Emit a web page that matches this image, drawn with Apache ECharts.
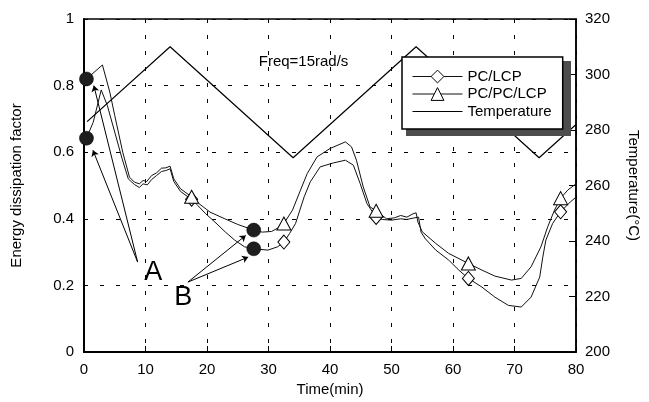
<!DOCTYPE html>
<html>
<head>
<meta charset="utf-8">
<script src="https://cdn.jsdelivr.net/npm/echarts@6/dist/echarts.min.js"></script>
<style>
  html, body { margin: 0; padding: 0; background: #fff; }
  #chart { width: 649px; height: 402px; }
</style>
</head>
<body>
<div id="chart"></div>
<script>
// Energy dissipation factor vs time at 15 rad/s, with the temperature program
const FONT = "'Liberation Sans', Arial, Helvetica, sans-serif";

// PC/LCP blend: [time (min), dissipation factor]
const pcLcp = [
  [0.4,0.642],[1.5,0.69],[2.8,0.787],[3.8,0.74],[5.0,0.66],[6.2,0.58],[7.2,0.52],
  [8.2,0.503],[9.0,0.494],[9.6,0.505],[10.3,0.502],[11.0,0.518],[11.8,0.53],
  [12.6,0.542],[13.3,0.545],[14.0,0.55],[14.6,0.512],[15.7,0.482],[16.6,0.47],
  [17.5,0.459],[18.5,0.44],[19.8,0.415],[21.3,0.39],[23.0,0.36],[24.5,0.336],
  [26.1,0.316],[27.6,0.31],[29.9,0.306],[31.5,0.316],[32.5,0.33],[33.4,0.355],
  [34.4,0.386],[35.8,0.466],[36.8,0.511],[38.4,0.556],[40.6,0.568],[42.5,0.576],
  [43.8,0.561],[44.9,0.506],[46.0,0.446],[47.5,0.404],[48.5,0.398],[50.0,0.396],
  [51.5,0.40],[52.5,0.398],[53.5,0.402],[54.4,0.405],[54.8,0.36],[55.5,0.34],
  [57.2,0.306],[59.3,0.276],[61.0,0.245],[62.5,0.221],[64.7,0.195],[66.8,0.165],
  [69.0,0.14],[71.1,0.135],[72.7,0.165],[74.1,0.225],[74.6,0.285],[75.1,0.336],
  [76.2,0.386],[77.5,0.421],[79.1,0.451],[80,0.465]
];

// PC/PC/LCP blend: [time (min), dissipation factor]
const pcPcLcp = [
  [0.4,0.82],[3.0,0.862],[4.2,0.78],[5.0,0.71],[6.3,0.60],[7.4,0.525],[8.2,0.51],
  [9.0,0.505],[9.6,0.515],[10.2,0.512],[11.0,0.53],[11.8,0.538],[12.6,0.552],
  [13.3,0.553],[14.0,0.558],[14.6,0.52],[15.7,0.49],[16.6,0.478],[17.5,0.466],
  [18.6,0.447],[20.5,0.42],[22.9,0.40],[25.0,0.383],[26.7,0.372],[27.6,0.366],
  [29.0,0.36],[30.5,0.362],[31.5,0.372],[32.5,0.386],[33.9,0.426],[35.2,0.486],
  [36.3,0.536],[37.9,0.586],[40.0,0.611],[42.5,0.631],[43.5,0.616],[44.3,0.576],
  [45.4,0.496],[46.5,0.436],[47.5,0.424],[49.2,0.40],[50.5,0.403],[51.5,0.41],
  [52.5,0.405],[53.5,0.415],[54.0,0.418],[54.3,0.39],[55.0,0.361],[57.2,0.326],
  [59.3,0.296],[62.5,0.266],[64.7,0.246],[66.8,0.228],[69.5,0.216],[71.1,0.221],
  [72.7,0.256],[74.3,0.316],[75.4,0.376],[76.5,0.426],[77.5,0.462],[78.7,0.487],
  [80,0.505]
];

// Temperature program: [time (min), °C]
const temperature = [[0.5,283],[14,310],[34,270],[54,310],[74,270],[80,282]];

// Times at which the curve markers are drawn
const markerTimes = [17.5, 32.5, 47.5, 62.5, 77.5];

// Annotated points A (start) and B (around 27.6 min)
const pointsA = [[0.4,0.82],[0.4,0.642]];
const pointsB = [[27.6,0.366],[27.6,0.31]];
const labelA = [11.25, 0.24];
const labelB = [16.15, 0.165];
const apexA = [8.72, 0.27];
const tipsA = [[1.6, 0.80], [1.45, 0.606]];
const apexB = [16.9, 0.21];
const tipsB = [[26.3, 0.35], [26.7, 0.285]];
const freqText = 'Freq=15rad/s';
const freqPos = [35.7, 0.87];

const xTicks = { min: 0, max: 80, interval: 10 };
const leftTicks = { min: 0, max: 1, interval: 0.2 };
const rightTicks = { min: 200, max: 320, interval: 20 };

function withMarkers(points) {
  return points.map(p => markerTimes.includes(p[0]) ? { value: p } : { value: p, symbol: 'none' });
}

const dashed = { show: true, lineStyle: { color: '#000', type: [4, 12], width: 1 } };
const labelFont = { color: '#000', fontSize: 15, fontFamily: FONT };
const clear = 'rgba(0,0,0,0)';

const arrowLines = [
  ...tipsA.map(t => [{ coord: apexA, symbol: 'none' }, { coord: t, symbol: 'arrow' }]),
  ...tipsB.map(t => [{ coord: apexB, symbol: 'none' }, { coord: t, symbol: 'arrow' }])
];

// Legend box geometry (pixels)
const LEG = { left: 402, top: 57, width: 165, height: 75 };

const chart = echarts.init(document.getElementById('chart'), null, { renderer: 'canvas' });
chart.setOption({
  backgroundColor: '#fff',
  animation: false,
  textStyle: { fontFamily: FONT },
  grid: { left: 84, right: 67, top: 19, bottom: 50, show: true, borderColor: '#000', borderWidth: 1.5, backgroundColor: 'transparent' },
  graphic: [{
    // drop shadow under the legend box
    type: 'rect', z: 3, silent: true,
    shape: { x: LEG.left + 4, y: LEG.top + 4, width: LEG.width, height: LEG.height },
    style: { fill: '#4d4d4d' }
  }],
  legend: {
    data: ['PC/LCP', 'PC/PC/LCP', 'Temperature'],
    orient: 'vertical', left: LEG.left, top: LEG.top,
    width: LEG.width - 21,
    padding: [12, 11, 10, 10],
    itemWidth: 50, itemHeight: 16, itemGap: 2.5,
    backgroundColor: '#fff', borderColor: '#000', borderWidth: 1.5,
    itemStyle: { borderWidth: 1 },
    lineStyle: { width: 1 },
    z: 5,
    textStyle: { fontSize: 15, color: '#000', fontFamily: FONT }
  },
  xAxis: {
    type: 'value', min: xTicks.min, max: xTicks.max, interval: xTicks.interval,
    name: 'Time(min)', nameLocation: 'middle', nameGap: 26,
    nameTextStyle: labelFont,
    axisLine: { lineStyle: { color: '#000', width: 2 } },
    axisTick: { inside: true, length: 6, lineStyle: { color: '#000' } },
    axisLabel: Object.assign({ margin: 10 }, labelFont),
    splitLine: dashed
  },
  yAxis: [
    {
      type: 'value', min: leftTicks.min, max: leftTicks.max, interval: leftTicks.interval,
      name: 'Energy dissipation factor', nameLocation: 'middle', nameGap: 60,
      nameTextStyle: labelFont,
      axisLine: { show: true, lineStyle: { color: '#000', width: 2 } },
      axisTick: { show: false },
      axisLabel: Object.assign({ margin: 10 }, labelFont),
      splitLine: dashed
    },
    {
      type: 'value', position: 'right', min: rightTicks.min, max: rightTicks.max, interval: rightTicks.interval,
      name: 'Temperature(°C)', nameLocation: 'middle', nameGap: 50, nameRotate: -90,
      nameTextStyle: labelFont,
      axisLine: { show: true, lineStyle: { color: '#000', width: 1.5 } },
      axisTick: { show: true, inside: true, length: 7, lineStyle: { color: '#000' } },
      axisLabel: Object.assign({ margin: 9 }, labelFont),
      splitLine: { show: false }
    }
  ],
  series: [
    {
      name: 'PC/LCP', type: 'line', data: withMarkers(pcLcp),
      symbol: 'diamond', symbolSize: [12, 14], showSymbol: true, showAllSymbol: true,
      lineStyle: { color: '#111', width: 1 },
      itemStyle: { color: '#fff', borderColor: '#000', borderWidth: 1 },
      z: 2
    },
    {
      name: 'PC/PC/LCP', type: 'line', data: withMarkers(pcPcLcp),
      symbol: 'triangle', symbolSize: [14, 13], showSymbol: true, showAllSymbol: true,
      lineStyle: { color: '#111', width: 1 },
      itemStyle: { color: '#fff', borderColor: '#000', borderWidth: 1 },
      z: 2
    },
    {
      name: 'Temperature', type: 'line', yAxisIndex: 1, data: temperature,
      symbol: 'none', lineStyle: { color: '#000', width: 1.2 },
      itemStyle: { color: clear, borderColor: clear, borderWidth: 0 }, z: 2
    },
    {
      name: 'annotated points', type: 'scatter', data: pointsA.concat(pointsB),
      symbol: 'circle', symbolSize: 14,
      itemStyle: { color: '#1e1e1e', borderColor: '#000', borderWidth: 0.5, opacity: 1 },
      z: 2,
      markLine: {
        silent: true, symbolSize: 6, label: { show: false },
        lineStyle: { color: '#000', width: 1, type: 'solid', opacity: 1 },
        emphasis: { disabled: true },
        data: arrowLines
      }
    },
    {
      name: 'labels', type: 'scatter', symbolSize: 0, silent: true,
      itemStyle: { color: '#000', opacity: 1 }, z: 2,
      data: [
        { name: 'A', value: labelA, label: { fontSize: 27 } },
        { name: 'B', value: labelB, label: { fontSize: 27 } },
        { name: freqText, value: freqPos, label: { fontSize: 15 } }
      ],
      label: { show: true, position: 'inside', formatter: p => p.name, color: '#000', opacity: 1, fontFamily: FONT }
    }
  ]
});
</script>
</body>
</html>
